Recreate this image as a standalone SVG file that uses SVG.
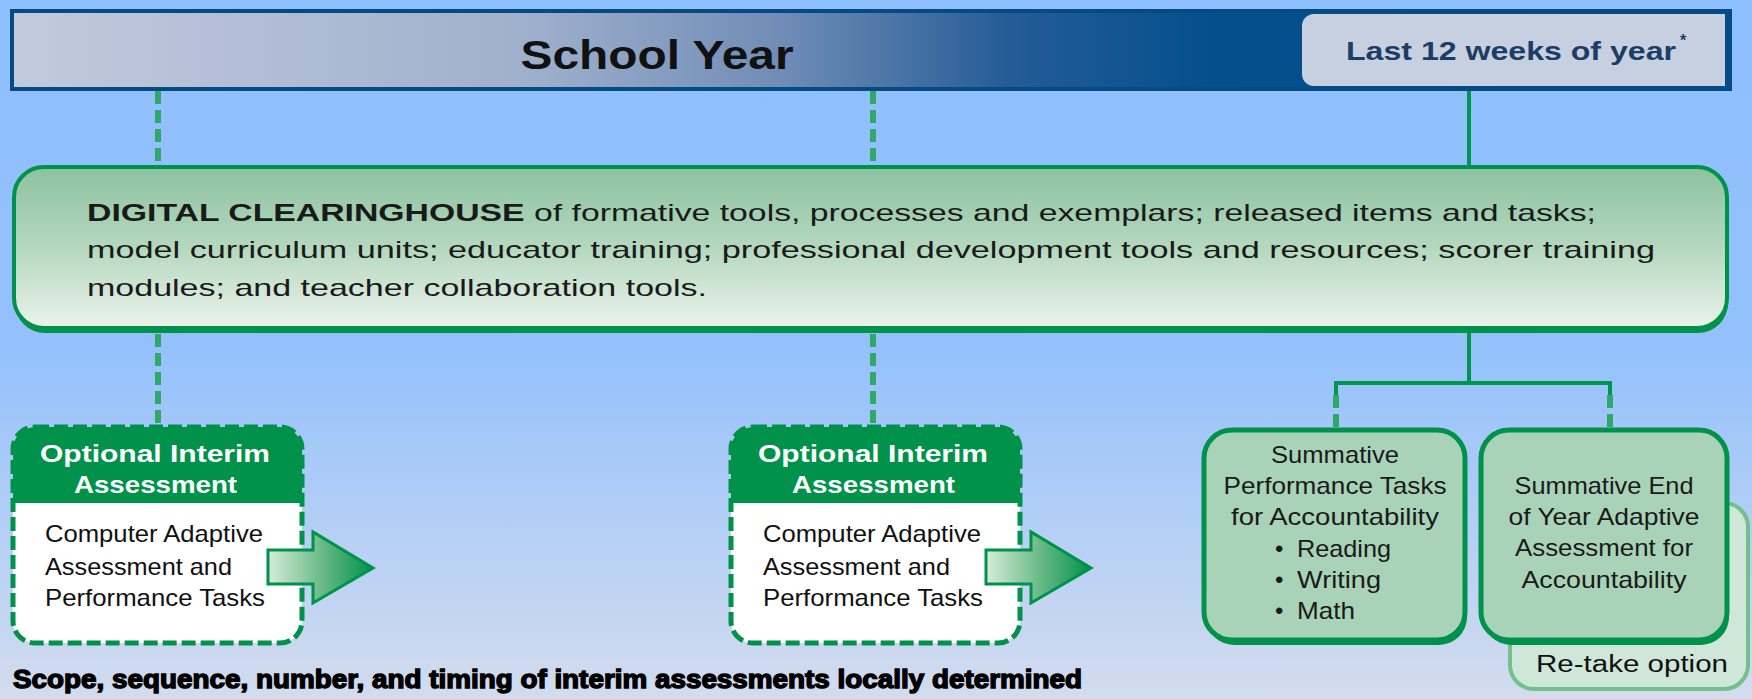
<svg xmlns="http://www.w3.org/2000/svg" width="1752" height="699" viewBox="0 0 1752 699">
  <defs>
    <linearGradient id="bg" x1="0" y1="0" x2="0" y2="1">
      <stop offset="0" stop-color="#8ebfff"/>
      <stop offset="0.5" stop-color="#94c1fc"/>
      <stop offset="1" stop-color="#d3dcee"/>
    </linearGradient>
    <linearGradient id="barFill" x1="0" y1="0" x2="1" y2="0">
      <stop offset="0" stop-color="#c2cade"/>
      <stop offset="0.3" stop-color="#9fb0cc"/>
      <stop offset="0.45" stop-color="#6f8cb6"/>
      <stop offset="0.58" stop-color="#245c96"/>
      <stop offset="0.7" stop-color="#044f8c"/>
      <stop offset="1" stop-color="#004c88"/>
    </linearGradient>
    <linearGradient id="chFill" x1="0" y1="0" x2="0" y2="1">
      <stop offset="0" stop-color="#8cc29f"/>
      <stop offset="0.5" stop-color="#b4d8bf"/>
      <stop offset="1" stop-color="#ebf3eb"/>
    </linearGradient>
    <linearGradient id="arrowFill" x1="0" y1="0" x2="1" y2="0">
      <stop offset="0" stop-color="#d6ecd9"/>
      <stop offset="0.5" stop-color="#6cbb8a"/>
      <stop offset="1" stop-color="#00924a"/>
    </linearGradient>
    <clipPath id="clipA">
      <rect x="13" y="427" width="289" height="216" rx="22"/>
    </clipPath>
    <clipPath id="clipB">
      <rect x="731" y="427" width="289" height="216" rx="22"/>
    </clipPath>
    <style>
      .sans { font-family: "Liberation Sans", Arial, sans-serif; }
      .dash { stroke: #2fa86a; stroke-width: 6; stroke-dasharray: 13 6; fill: none; }
      .solid { stroke: #00964c; stroke-width: 4; fill: none; }
      .ibox { fill: none; stroke: #00924a; stroke-width: 5; stroke-dasharray: 14 5; }
      .ihead { fill: #ffffff; font-weight: bold; font-size: 24px; }
      .ibody { fill: #111111; font-size: 24px; }
      .sbox { fill: #a9d3b9; stroke: #00924a; stroke-width: 5; }
      .stext { fill: #1a1a1a; font-size: 24px; }
      .arrow { fill: url(#arrowFill); stroke: #00924a; stroke-width: 3; stroke-linejoin: miter; }
    </style>
  </defs>

  <!-- background -->
  <rect x="0" y="0" width="1752" height="699" fill="url(#bg)"/>

  <!-- connectors -->
  <g id="connectors">
    <line class="dash" x1="158" y1="91" x2="158" y2="167"/>
    <line class="dash" x1="873" y1="91" x2="873" y2="167"/>
    <line class="dash" x1="158" y1="334" x2="158" y2="427"/>
    <line class="dash" x1="873" y1="334" x2="873" y2="427"/>
    <line class="solid" x1="1469" y1="90" x2="1469" y2="167"/>
    <polyline class="solid" points="1469,332 1469,383"/>
    <polyline class="solid" points="1336,395 1336,383 1610,383 1610,395"/>
    <line class="dash" x1="1336" y1="395" x2="1336" y2="429"/>
    <line class="dash" x1="1610" y1="395" x2="1610" y2="429"/>
  </g>

  <!-- school year bar -->
  <g id="school-year">
    <rect x="12" y="11" width="1718" height="78" fill="url(#barFill)" stroke="#064a84" stroke-width="4"/>
    <text class="sans" x="657" y="69" text-anchor="middle" font-size="41" font-weight="bold" fill="#111111" textLength="273" lengthAdjust="spacingAndGlyphs">School Year</text>
  </g>

  <g id="last-weeks">
    <path d="M1314,14 H1725 V86 H1314 A12,12 0 0 1 1302,74 V26 A12,12 0 0 1 1314,14 Z" fill="#c7d0e1"/>
    <text class="sans" x="1346" y="60" font-size="26" font-weight="bold" fill="#1c3d66" textLength="330" lengthAdjust="spacingAndGlyphs">Last 12 weeks of year</text>
    <text class="sans" x="1680" y="46" font-size="16" font-weight="bold" fill="#1c3d66">*</text>
  </g>

  <!-- clearinghouse -->
  <g id="clearinghouse">
    <rect x="15" y="172" width="1713" height="161" rx="30" fill="#00924a"/>
    <rect x="14" y="167" width="1713" height="161" rx="30" fill="url(#chFill)" stroke="#00924a" stroke-width="4"/>
    <text class="sans" x="87" y="221" font-size="24" fill="#1a1a1a" textLength="1509" lengthAdjust="spacingAndGlyphs"><tspan font-weight="bold">DIGITAL CLEARINGHOUSE</tspan> of formative tools, processes and exemplars; released items and tasks;</text>
    <text class="sans" x="87" y="258" font-size="24" fill="#1a1a1a" textLength="1568" lengthAdjust="spacingAndGlyphs">model curriculum units; educator training; professional development tools and resources; scorer training</text>
    <text class="sans" x="87" y="296" font-size="24" fill="#1a1a1a" textLength="620" lengthAdjust="spacingAndGlyphs">modules; and teacher collaboration tools.</text>
  </g>

  <!-- interim assessment 1 -->
  <g id="interim-1">
    <rect x="13" y="427" width="289" height="216" rx="22" fill="#ffffff"/>
    <rect x="13" y="427" width="289" height="76" fill="#00924a" clip-path="url(#clipA)"/>
    <rect class="ibox" x="13" y="427" width="289" height="216" rx="22"/>
    <text class="sans ihead" x="40" y="462" textLength="230" lengthAdjust="spacingAndGlyphs">Optional Interim</text>
    <text class="sans ihead" x="74" y="493" textLength="163" lengthAdjust="spacingAndGlyphs">Assessment</text>
    <text class="sans ibody" x="45" y="542" textLength="218" lengthAdjust="spacingAndGlyphs">Computer Adaptive</text>
    <text class="sans ibody" x="45" y="575" textLength="187" lengthAdjust="spacingAndGlyphs">Assessment and</text>
    <text class="sans ibody" x="45" y="606" textLength="220" lengthAdjust="spacingAndGlyphs">Performance Tasks</text>
  </g>
  <g id="arrow-1">
    <polygon class="arrow" points="268,550 313,550 313,532 373,568 313,603 313,584 268,584"/>
  </g>

  <!-- interim assessment 2 -->
  <g id="interim-2">
    <rect x="731" y="427" width="289" height="216" rx="22" fill="#ffffff"/>
    <rect x="731" y="427" width="289" height="76" fill="#00924a" clip-path="url(#clipB)"/>
    <rect class="ibox" x="731" y="427" width="289" height="216" rx="22"/>
    <text class="sans ihead" x="758" y="462" textLength="230" lengthAdjust="spacingAndGlyphs">Optional Interim</text>
    <text class="sans ihead" x="792" y="493" textLength="163" lengthAdjust="spacingAndGlyphs">Assessment</text>
    <text class="sans ibody" x="763" y="542" textLength="218" lengthAdjust="spacingAndGlyphs">Computer Adaptive</text>
    <text class="sans ibody" x="763" y="575" textLength="187" lengthAdjust="spacingAndGlyphs">Assessment and</text>
    <text class="sans ibody" x="763" y="606" textLength="220" lengthAdjust="spacingAndGlyphs">Performance Tasks</text>
  </g>
  <g id="arrow-2">
    <polygon class="arrow" points="986,550 1031,550 1031,532 1091,568 1031,603 1031,584 986,584"/>
  </g>

  <!-- re-take option (behind end-of-year box) -->
  <g id="retake">
    <rect x="1510" y="503" width="238" height="186" rx="24" fill="#cfe7d8" stroke="#74bf8e" stroke-width="4"/>
    <text class="sans" x="1536" y="672" font-size="23" fill="#111111" textLength="192" lengthAdjust="spacingAndGlyphs">Re-take option</text>
  </g>

  <!-- summative performance tasks -->
  <g id="summative-tasks">
    <rect x="1206" y="433" width="261" height="212" rx="28" fill="#00924a"/>
    <rect class="sbox" x="1204" y="430" width="261" height="210" rx="28"/>
    <text class="sans stext" x="1335" y="463" text-anchor="middle" textLength="128" lengthAdjust="spacingAndGlyphs">Summative</text>
    <text class="sans stext" x="1335" y="494" text-anchor="middle" textLength="223" lengthAdjust="spacingAndGlyphs">Performance Tasks</text>
    <text class="sans stext" x="1335" y="525" text-anchor="middle" textLength="208" lengthAdjust="spacingAndGlyphs">for Accountability</text>
    <text class="sans stext" x="1275" y="557">•</text>
    <text class="sans stext" x="1297" y="557" textLength="94" lengthAdjust="spacingAndGlyphs">Reading</text>
    <text class="sans stext" x="1275" y="588">•</text>
    <text class="sans stext" x="1297" y="588" textLength="84" lengthAdjust="spacingAndGlyphs">Writing</text>
    <text class="sans stext" x="1275" y="619">•</text>
    <text class="sans stext" x="1297" y="619" textLength="58" lengthAdjust="spacingAndGlyphs">Math</text>
  </g>

  <!-- summative end of year -->
  <g id="summative-eoy">
    <rect x="1483" y="433" width="246" height="212" rx="28" fill="#00924a"/>
    <rect class="sbox" x="1481" y="430" width="246" height="210" rx="28"/>
    <text class="sans stext" x="1604" y="494" text-anchor="middle" textLength="179" lengthAdjust="spacingAndGlyphs">Summative End</text>
    <text class="sans stext" x="1604" y="525" text-anchor="middle" textLength="191" lengthAdjust="spacingAndGlyphs">of Year Adaptive</text>
    <text class="sans stext" x="1604" y="556" text-anchor="middle" textLength="178" lengthAdjust="spacingAndGlyphs">Assessment for</text>
    <text class="sans stext" x="1604" y="588" text-anchor="middle" textLength="165" lengthAdjust="spacingAndGlyphs">Accountability</text>
  </g>

  <!-- footnote -->
  <text class="sans" x="13" y="688" font-size="26" font-weight="bold" fill="#000000" stroke="#000000" stroke-width="1.4" textLength="1069" lengthAdjust="spacingAndGlyphs">Scope, sequence, number, and timing of interim assessments locally determined</text>
</svg>
